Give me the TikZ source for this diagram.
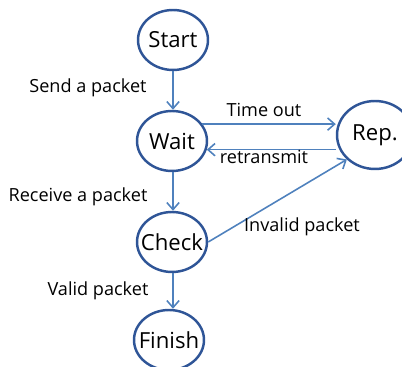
\documentclass[tikz,border=0pt]{standalone}
\definecolor{state_line}{RGB}{47, 85, 151}
\definecolor{edge_blue}{RGB}{79, 129, 189}
\usepackage{fontspec}
\setmainfont{Open Sans}
\usepackage{tikz}
\usetikzlibrary{arrows.meta, positioning, shapes.geometric, calc}
\tikzset{
  state/.style={ellipse, draw=state_line, line width=1.4pt, fill=white, minimum width=1.4cm, minimum height=1.2cm, inner xsep=-7pt, inner ysep=0pt, font=\fontsize{12.6}{14}\selectfont},
  statebig/.style={state, minimum width=1.52cm, minimum height=1.36cm},
  trans/.style={draw=edge_blue, line width=0.9pt, -{Straight Barb[length=4pt, width=7pt]}},
  lbl/.style={font=\fontsize{10.3}{12}\selectfont, inner sep=0pt}
}

\begin{document}
\begin{tikzpicture}[x=0.02cm, y=-0.02cm]
          \useasboundingbox (0,0) rectangle (402,367);
          \node[state] (start)  at (173, 40)  {Start};
          \node[state] (wait)   at (172, 141) {Wait};
          \node[statebig] (rep) at (375, 135) {Rep.};
          \node[state] (check)  at (172, 242) {Check};
          \node[state] (finish) at (169, 340) {Finish};
          \draw[trans] (start.south) -- (wait.north -| start.south);
          \draw[trans] (wait.south -| start.south) -- (check.north -| start.south);
          \draw[trans] (check.south -| start.south) -- (finish.north -| start.south);
          \draw[trans] (wait.29) -- (wait.29 -| rep.west);
          \draw[trans] (rep.west |- wait.-14) -- (wait.-14);
          \draw[trans] (check.east) -- (rep.221);
          \node[lbl] (send)    at (88, 88)   {Send a packet};
          \node[lbl] (timeout) at (264, 110) {Time out};
          \node[lbl] (retx)    at (264, 157) {retransmit};
          \node[lbl] (recv)    at (78, 197)  {Receive a packet};
          \node[lbl] (invalid) at (302, 227) {Invalid packet};
          \node[lbl] (valid)   at (98, 291)  {Valid packet};
        \end{tikzpicture}
\end{document}
